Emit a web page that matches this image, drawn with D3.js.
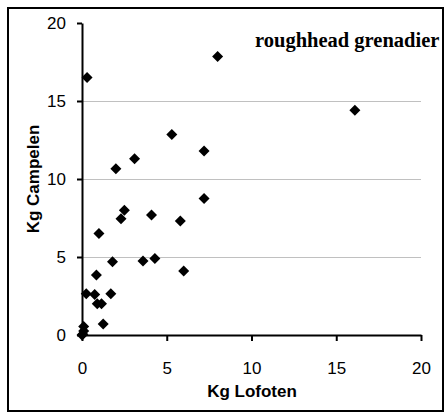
<!DOCTYPE html>
<html>
<head>
<meta charset="utf-8">
<script src="https://cdn.jsdelivr.net/npm/d3@7"></script>
<style>
  body { margin: 0; background: #fff; }
  svg { display: block; }
</style>
</head>
<body>
<svg id="chart" width="445" height="413"></svg>
<script>
// valores (kg por estacion)
const lofoten  = [0.3, 8.0, 16.1, 5.3, 7.2, 3.1, 2.0, 7.2, 2.5, 2.3, 4.1, 5.8, 1.0, 1.8, 3.6, 4.3, 6.0, 0.85, 0.25, 0.75, 1.7, 0.9, 1.15, 1.25, 0.1, 0.05, 0.0, 0.1];
const campelen = [16.5, 17.85, 14.4, 12.85, 11.8, 11.3, 10.65, 8.75, 8.0, 7.45, 7.7, 7.3, 6.5, 4.7, 4.75, 4.9, 4.1, 3.85, 2.65, 2.6, 2.65, 2.0, 2.0, 0.7, 0.55, 0.05, 0.0, 0.25];
const xTicks = [0, 5, 10, 15, 20];
const yTicks = [0, 5, 10, 15, 20];
const gridValues = [5, 10, 15];

const svg = d3.select("#chart");

// marco exterior
svg.append("rect")
   .attr("x", 8).attr("y", 8)
   .attr("width", 435).attr("height", 403)
   .attr("fill", "none")
   .attr("stroke", "#000")
   .attr("stroke-width", 2);

const x = d3.scaleLinear().domain([0, 20]).range([82, 421]);
const y = d3.scaleLinear().domain([0, 20]).range([335, 23]);

// lineas de fondo
svg.selectAll(".grid")
   .data(gridValues)
   .enter()
   .append("line")
   .attr("x1", x(0)).attr("x2", x(20))
   .attr("y1", d => Math.round(y(d)) + 0.5)
   .attr("y2", d => Math.round(y(d)) + 0.5)
   .attr("stroke", "#c0c0c0")
   .attr("stroke-width", 1);

const font = "Liberation Sans, Arial, sans-serif";

// eje x
const xAxis = svg.append("g")
   .attr("transform", `translate(0, ${y(0)})`)
   .call(d3.axisBottom(x).tickValues(xTicks).tickSize(6).tickPadding(21).tickSizeOuter(0));
// eje y
const yAxis = svg.append("g")
   .attr("transform", `translate(${x(0)}, 0)`)
   .call(d3.axisLeft(y).tickValues(yTicks).tickSize(5).tickPadding(11).tickSizeOuter(0));

[xAxis, yAxis].forEach(g => {
    g.select(".domain").attr("stroke", "#000").attr("stroke-width", 2);
    g.selectAll(".tick line").attr("stroke", "#000").attr("stroke-width", 2);
    g.selectAll(".tick text")
     .attr("fill", "#000")
     .style("font-family", font)
     .style("font-size", "17px");
});

// puntos (rombos)
const r = 5.5;
svg.selectAll(".pt")
   .data(lofoten.map((d, i) => [d, campelen[i]]))
   .enter()
   .append("path")
   .attr("d", d => {
       const cx = x(d[0]), cy = y(d[1]);
       return `M${cx},${cy - r}L${cx + r},${cy}L${cx},${cy + r}L${cx - r},${cy}Z`;
   })
   .attr("fill", "#000");

// titulos de ejes
svg.append("text")
   .attr("x", 252).attr("y", 397)
   .attr("text-anchor", "middle")
   .style("font-family", font)
   .style("font-weight", "bold")
   .style("font-size", "17px")
   .text("Kg Lofoten");

svg.append("text")
   .attr("transform", "translate(39, 179) rotate(-90)")
   .attr("text-anchor", "middle")
   .style("font-family", font)
   .style("font-weight", "bold")
   .style("font-size", "17px")
   .text("Kg Campelen");

svg.append("text")
   .attr("x", 255).attr("y", 47)
   .style("font-family", "Liberation Serif, Times New Roman, serif")
   .style("font-weight", "bold")
   .style("font-size", "20.5px")
   .text("roughhead grenadier");
</script>
</body>
</html>
